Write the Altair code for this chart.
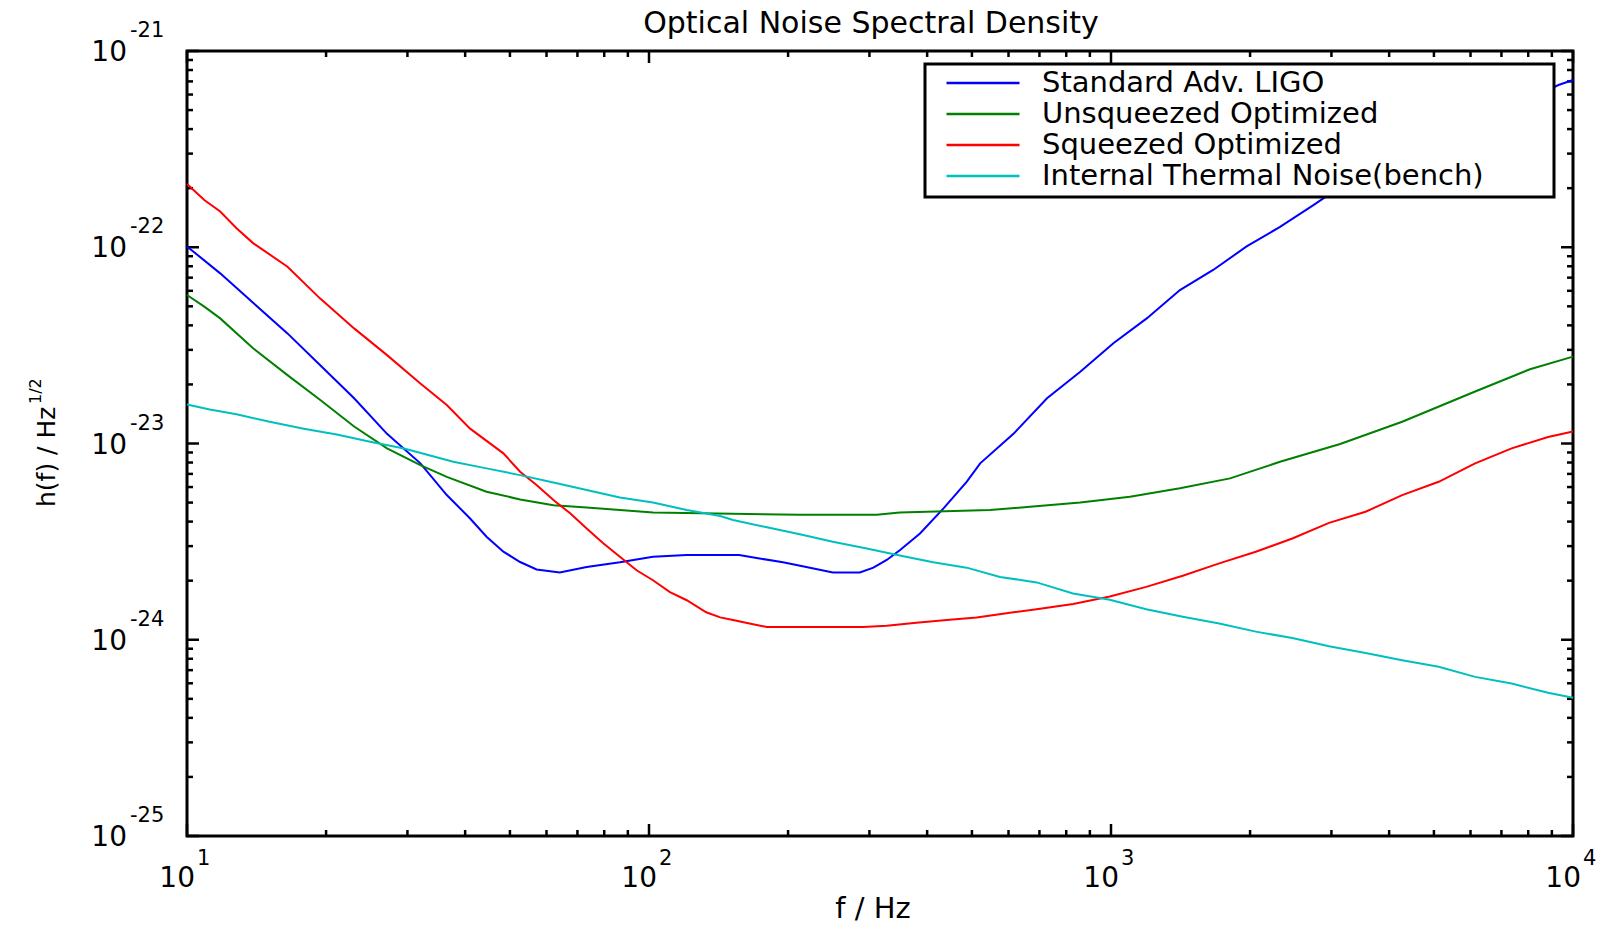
import altair as alt
import pandas as pd

FONT = "DejaVu Sans"
W, H = 1386, 785

SERIES = ["Standard Adv. LIGO", "Unsqueezed Optimized", "Squeezed Optimized",
          "Internal Thermal Noise(bench)"]
COLORS = ["#0000ff", "#008000", "#ff0000", "#00bfbf"]

# values in units of 1e-24 / sqrt(Hz)
std_f = [10, 11.8, 13.9, 16.5, 19.4, 23.0, 27.1, 32.0, 36.5, 41.0, 44.5, 48.4, 52.6, 57.1,
         64.1, 73.3, 86.5, 102, 120.7, 142.6, 156.7, 171, 195, 223, 250, 286, 306, 327,
         349, 386, 434, 487, 521, 615, 727, 858, 1012, 1195, 1410, 1664, 1966, 2322,
         2742, 2929, 9300, 10000]
std_h = [101, 73.6, 52.1, 36.4, 25.1, 17.0, 11.2, 7.92, 5.46, 4.15, 3.35, 2.81, 2.49, 2.28,
         2.20, 2.35, 2.48, 2.65, 2.70, 2.70, 2.70, 2.61, 2.48, 2.33, 2.20, 2.20, 2.33, 2.55,
         2.86, 3.48, 4.67, 6.38, 7.92, 11.2, 17.0, 23.2, 32.4, 43.4, 60.5, 76.6, 101, 127,
         164, 182, 671, 711]

unsq_f = [10, 10.9, 11.8, 13.9, 16.5, 19.4, 23.0, 27.1, 32.0, 36.5, 44.5, 52.6, 62.1, 73.3,
          86.5, 102, 212, 311, 349, 547, 668, 858, 1099, 1410, 1810, 2322, 3133, 4268,
          6140, 8070, 10000]
unsq_h = [57.1, 49.8, 43.4, 30.6, 22.3, 16.7, 12.2, 9.44, 7.76, 6.76, 5.68, 5.19, 4.85, 4.72,
          4.58, 4.45, 4.33, 4.33, 4.45, 4.58, 4.76, 5.01, 5.35, 5.91, 6.64, 8.07, 9.94, 12.9,
          18.4, 23.9, 27.7]

sq_f = [10, 10.9, 11.8, 12.8, 13.9, 16.5, 19.4, 23.0, 27.1, 32.0, 36.5, 41.0, 48.4, 52.6,
        57.1, 62.1, 67.5, 73.3, 79.6, 86.5, 94, 102, 111, 120.7, 133, 142.6, 152, 165, 180,
        231, 291, 327, 379, 441, 512, 615, 690, 828, 994, 1192, 1430, 1715, 2058, 2469,
        2964, 3556, 4268, 5120, 6140, 7365, 8833, 10000]
sq_h = [210, 174, 152, 125, 105, 79.6, 54.9, 38.6, 28.2, 20.2, 15.7, 11.9, 8.91, 7.18,
        6.14, 5.15, 4.41, 3.69, 3.10, 2.65, 2.26, 2.01, 1.75, 1.59, 1.38, 1.30, 1.26, 1.21,
        1.16, 1.16, 1.16, 1.18, 1.22, 1.26, 1.30, 1.38, 1.43, 1.52, 1.66, 1.86, 2.12, 2.45,
        2.81, 3.28, 3.94, 4.49, 5.46, 6.38, 7.92, 9.45, 10.8, 11.5]

th_f = [10, 11.2, 12.8, 15.1, 17.9, 21.1, 24.9, 29.5, 37.7, 44.5, 52.6, 62.1, 73.3, 86.5,
        102, 120.7, 142.6, 152, 180, 212, 250, 296, 349, 412, 487, 575, 690, 828, 994,
        1192, 1430, 1715, 2058, 2469, 2964, 3556, 4268, 5120, 6140, 7365, 8833, 10000]
th_h = [15.8, 14.9, 14.1, 12.9, 11.9, 11.1, 10.2, 9.44, 8.07, 7.47, 6.90, 6.33, 5.79, 5.31,
        5.01, 4.58, 4.27, 4.08, 3.74, 3.45, 3.16, 2.92, 2.69, 2.48, 2.33, 2.09, 1.96, 1.72,
        1.60, 1.43, 1.31, 1.21, 1.10, 1.02, 0.927, 0.857, 0.787, 0.728, 0.647, 0.598,
        0.537, 0.506]

X_MAJOR = [10, 100, 1000, 10000]
X_EXP = ["1", "2", "3", "4"]
X_MINOR = [m * 10 ** e for e in (1, 2, 3) for m in range(2, 10)]
Y_MAJOR = [1e-21, 1e-22, 1e-23, 1e-24, 1e-25]
Y_EXP = ["-21", "-22", "-23", "-24", "-25"]
Y_MINOR = [m * 10.0 ** e for e in (-25, -24, -23, -22) for m in range(2, 10)]

rows = []
for name, fs, hs in zip(SERIES, [std_f, unsq_f, sq_f, th_f], [std_h, unsq_h, sq_h, th_h]):
    for i, (f, h) in enumerate(zip(fs, hs)):
        rows.append({"series": name, "f": f, "h": h * 1e-24, "order": i})
df = pd.DataFrame(rows)

xscale = alt.Scale(type="log", domain=[10, 10000], nice=False)
yscale = alt.Scale(type="log", domain=[1e-25, 1e-21], nice=False)

PAD = "\u2800" * 3  # blank filler so the legend frame keeps its right margin

lines = alt.Chart(df).mark_line(strokeWidth=2).encode(
    x=alt.X("f:Q", scale=xscale, axis=None),
    y=alt.Y("h:Q", scale=yscale, axis=None),
    order="order:Q",
    color=alt.Color(
        "series:N",
        scale=alt.Scale(domain=SERIES, range=COLORS),
        legend=alt.Legend(
            title=None, orient="none", legendX=738, legendY=13,
            fillColor="white", strokeColor="black", padding=6,
            symbolType="stroke", symbolSize=73 * 73, symbolStrokeWidth=2.5,
            symbolOffset=14, clipHeight=26, rowPadding=2,
            labelFont=FONT, labelFontSize=29, labelColor="black",
            labelOffset=21, labelLimit=900,
            labelExpr="datum.label + '" + PAD + "'",
        ),
    ),
)

xmaj = pd.DataFrame({"f": X_MAJOR, "e": X_EXP})
xmin = pd.DataFrame({"f": X_MINOR})
ymaj = pd.DataFrame({"h": Y_MAJOR, "e": Y_EXP})
ymin = pd.DataFrame({"h": Y_MINOR})

def xticks(data, length):
    base = alt.Chart(data).mark_rule(color="black", strokeWidth=2.5)
    enc = dict(x=alt.X("f:Q", scale=xscale, axis=None))
    return [
        base.encode(y=alt.value(H), y2=alt.value(H - length), **enc),
        base.encode(y=alt.value(0), y2=alt.value(length), **enc),
    ]

def yticks(data, length):
    base = alt.Chart(data).mark_rule(color="black", strokeWidth=2.5)
    enc = dict(y=alt.Y("h:Q", scale=yscale, axis=None))
    return [
        base.encode(x=alt.value(0), x2=alt.value(length), **enc),
        base.encode(x=alt.value(W), x2=alt.value(W - length), **enc),
    ]

ticks = xticks(xmaj, 12) + xticks(xmin, 6) + yticks(ymaj, 12) + yticks(ymin, 6)

xlab_base = alt.Chart(xmaj).mark_text(
    text="10", font=FONT, fontSize=28, align="right", baseline="alphabetic", dx=8, color="black"
).encode(x=alt.X("f:Q", scale=xscale, axis=None), y=alt.value(H + 51))
xlab_exp = alt.Chart(xmaj).mark_text(
    font=FONT, fontSize=21, align="left", baseline="alphabetic", dx=10, color="black"
).encode(x=alt.X("f:Q", scale=xscale, axis=None), y=alt.value(H + 29), text="e:N")

ylab_base = alt.Chart(ymaj).mark_text(
    text="10", font=FONT, fontSize=28, align="right", baseline="alphabetic", dy=10, color="black"
).encode(y=alt.Y("h:Q", scale=yscale, axis=None), x=alt.value(-60))
ylab_exp = alt.Chart(ymaj).mark_text(
    font=FONT, fontSize=21, align="left", baseline="alphabetic", dy=-14, color="black"
).encode(y=alt.Y("h:Q", scale=yscale, axis=None), x=alt.value(-57), text="e:N")

title = alt.Chart(pd.DataFrame({"t": ["Optical Noise Spectral Density"]})).mark_text(
    font=FONT, fontSize=30, align="center", baseline="alphabetic", color="black"
).encode(x=alt.value(684), y=alt.value(-18), text="t:N")

xtitle = alt.Chart(pd.DataFrame({"t": ["f / Hz"]})).mark_text(
    font=FONT, fontSize=29, align="center", baseline="alphabetic", color="black"
).encode(x=alt.value(686), y=alt.value(867), text="t:N")

ytitle = alt.Chart(pd.DataFrame({"t": ["h(f) / Hz"]})).mark_text(
    font=FONT, fontSize=25, align="left", baseline="alphabetic", angle=270, color="black"
).encode(x=alt.value(-132), y=alt.value(456), text="t:N")
ytitle_exp = alt.Chart(pd.DataFrame({"t": ["1/2"]})).mark_text(
    font=FONT, fontSize=16, align="left", baseline="alphabetic", angle=270, color="black"
).encode(x=alt.value(-146), y=alt.value(353), text="t:N")

chart = alt.layer(
    *ticks, lines, xlab_base, xlab_exp, ylab_base, ylab_exp, title, xtitle, ytitle, ytitle_exp
).properties(
    width=W, height=H,
    autosize=alt.AutoSizeParams(type="none"),
    padding={"left": 187, "top": 51, "right": 34, "bottom": 89},
    background="white",
).configure_view(
    stroke="black", strokeWidth=3
).configure_legend(
    strokeWidth=3
)

chart.save("out.html", embed_options={"renderer": "svg", "actions": False})
